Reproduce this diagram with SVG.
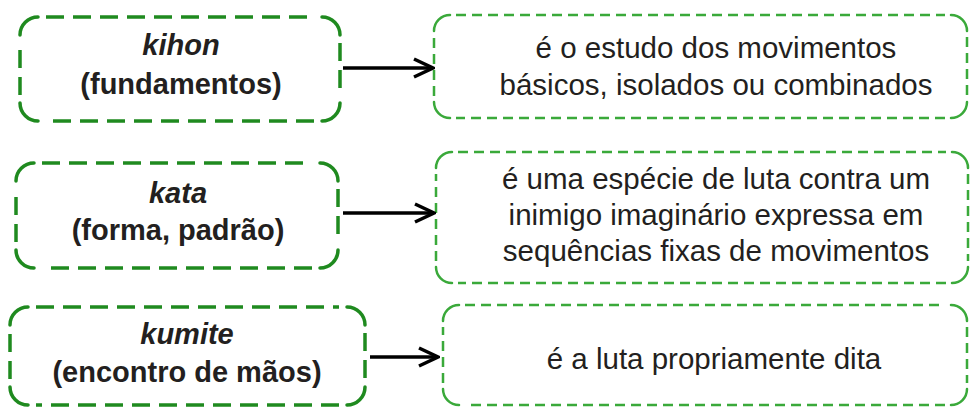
<svg xmlns="http://www.w3.org/2000/svg" width="971" height="407" viewBox="0 0 971 407">
<style>
.bg{fill:#ffffff}
.lc{fill:none;stroke:#1f8a1f;stroke-width:3.5;stroke-linecap:round}
.le{fill:none;stroke:#1f8a1f;stroke-width:3.5;stroke-dasharray:18 9}
.rc{fill:none;stroke:#3aa93a;stroke-width:2.5;stroke-linecap:round}
.re{fill:none;stroke:#3aa93a;stroke-width:2.5;stroke-dasharray:10 6}
.lt{font-family:"Liberation Sans",Arial,sans-serif;font-size:29px;font-weight:bold;fill:#231f20;text-anchor:middle}
.it{font-style:italic}
.rt{font-family:"Liberation Sans",Arial,sans-serif;font-size:29.5px;fill:#231f20;text-anchor:middle}
.conn{stroke:#000;stroke-width:3.5;fill:none}
</style>
<defs>
<marker id="arr" markerUnits="userSpaceOnUse" markerWidth="24" markerHeight="22" viewBox="-2 -2 24 22" refX="20" refY="9" orient="auto">
<path d="M1,0 L20,9 L1,18" fill="none" stroke="#000" stroke-width="3.5" stroke-linejoin="miter"/>
</marker>
</defs>
<rect class="bg" x="0" y="0" width="971" height="407"/>
<g id="kihon">
<path class="lc" d="M20,35 A18,18 0 0 1 38,17 M322,17 A18,18 0 0 1 340,35 M340,103 A18,18 0 0 1 322,121 M38,121 A18,18 0 0 1 20,103"/>
<path class="le" d="M46,17 H314 M340,43 V95 M314,121 H46 M20,95 V43"/>
<text class="lt it" x="181" y="55">kihon</text>
<text class="lt" x="181" y="94">(fundamentos)</text>
</g>
<g id="kata">
<path class="lc" d="M16,181 A18,18 0 0 1 34,163 M320,163 A18,18 0 0 1 338,181 M338,250 A18,18 0 0 1 320,268 M34,268 A18,18 0 0 1 16,250"/>
<path class="le" d="M42,163 H312 M338,189 V242 M312,268 H42 M16,242 V189"/>
<text class="lt it" x="178" y="203">kata</text>
<text class="lt" x="178" y="240">(forma, padrão)</text>
</g>
<g id="kumite">
<path class="lc" d="M10,325 A18,18 0 0 1 28,307 M347,307 A18,18 0 0 1 365,325 M365,387 A18,18 0 0 1 347,405 M28,405 A18,18 0 0 1 10,387"/>
<path class="le" d="M36,307 H339 M365,333 V379 M339,405 H36 M10,379 V333"/>
<text class="lt it" x="187" y="344">kumite</text>
<text class="lt" x="187" y="382">(encontro de mãos)</text>
</g>
<g id="def-kihon">
<path class="rc" d="M434,31 A16,16 0 0 1 450,15 M951,15 A16,16 0 0 1 967,31 M967,102 A16,16 0 0 1 951,118 M450,118 A16,16 0 0 1 434,102"/>
<path class="re" d="M456,15 H945 M967,37 V96 M945,118 H456 M434,96 V37"/>
<text class="rt" x="716" y="58">é o estudo dos movimentos</text>
<text class="rt" x="716" y="95">básicos, isolados ou combinados</text>
</g>
<g id="def-kata">
<path class="rc" d="M436,168 A16,16 0 0 1 452,152 M952,152 A16,16 0 0 1 968,168 M968,267 A16,16 0 0 1 952,283 M452,283 A16,16 0 0 1 436,267"/>
<path class="re" d="M458,152 H946 M968,174 V261 M946,283 H458 M436,261 V174"/>
<text class="rt" x="716" y="189">é uma espécie de luta contra um</text>
<text class="rt" x="716" y="225">inimigo imaginário expressa em</text>
<text class="rt" x="716" y="261">sequências fixas de movimentos</text>
</g>
<g id="def-kumite">
<path class="rc" d="M443,321 A16,16 0 0 1 459,305 M951,305 A16,16 0 0 1 967,321 M967,389 A16,16 0 0 1 951,405 M459,405 A16,16 0 0 1 443,389"/>
<path class="re" d="M465,305 H945 M967,327 V383 M945,405 H465 M443,383 V327"/>
<text class="rt" x="714" y="369">é a luta propriamente dita</text>
</g>
<g id="connectors">
<line class="conn" x1="343" y1="68" x2="433" y2="68" marker-end="url(#arr)"/>
<line class="conn" x1="343" y1="213" x2="434" y2="213" marker-end="url(#arr)"/>
<line class="conn" x1="370" y1="357" x2="438" y2="357" marker-end="url(#arr)"/>
</g>
</svg>
